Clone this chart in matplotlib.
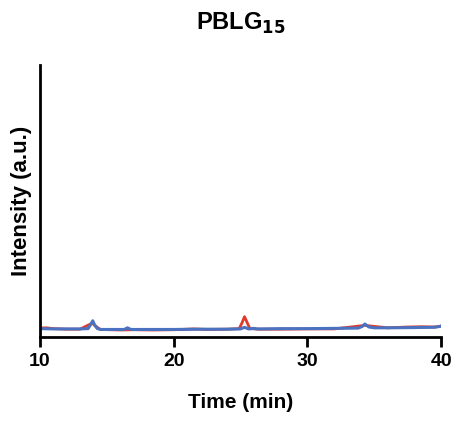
import matplotlib.pyplot as plt

plt.rcParams['font.family'] = ['Liberation Sans', 'DejaVu Sans']

# retention time (min) and intensity (a.u.)
time_blue = [10.0, 11.0, 12.0, 13.0, 13.6, 13.8, 13.95, 14.1, 14.3, 14.6, 15.5, 16.3, 16.55, 16.8,
             18.0, 20.0, 22.0, 24.0, 25.0, 25.3, 25.6, 26.0, 26.2, 26.5, 28.0, 30.0, 32.0,
             33.8, 34.1, 34.3, 34.6, 35.0, 36.0, 38.0, 39.5, 39.9, 40.0]
int_blue = [3.0, 2.9, 2.9, 2.9, 3.0, 4.6, 5.9, 4.2, 3.0, 2.7, 2.7, 2.7, 3.3, 2.7,
            2.7, 2.7, 2.8, 2.8, 2.9, 3.5, 2.9, 3.1, 2.9, 2.9, 3.0, 3.0, 3.1,
            3.2, 3.8, 4.7, 3.6, 3.3, 3.3, 3.4, 3.5, 3.8, 4.0]

time_red = [10.0, 10.5, 11.0, 12.0, 13.0, 13.9, 14.5, 16.0, 17.0, 18.5, 20.0, 21.5, 22.5, 24.0,
            24.9, 25.1, 25.3, 25.5, 25.7, 26.5, 28.0, 30.0, 32.0, 34.3, 36.0, 37.5, 38.5, 39.5, 40.0]
int_red = [3.2, 3.3, 3.0, 2.8, 2.8, 5.0, 2.7, 2.5, 2.6, 2.5, 2.6, 2.9, 2.7, 2.8,
           3.0, 5.0, 7.4, 5.2, 3.0, 2.8, 2.8, 2.9, 2.9, 4.2, 3.3, 3.6, 3.7, 3.6, 3.9]

fig = plt.figure(figsize=(4.59, 4.21), dpi=100)
ax = fig.add_axes([0.087, 0.2, 0.874, 0.646])

ax.plot(time_red, int_red, color='#E0392B', lw=2.0)
ax.plot(time_blue, int_blue, color='#4A72C0', lw=2.2)

ax.set_xlim(10, 40)
ax.set_ylim(0, 100)
ax.set_xticks([10, 20, 30, 40])
ax.set_yticks([])

for s in ['top', 'right']:
    ax.spines[s].set_visible(False)
for s in ['left', 'bottom']:
    ax.spines[s].set_linewidth(2)

ax.tick_params(axis='x', direction='out', length=7, width=2, labelsize=14, pad=5)
for lab in ax.get_xticklabels():
    lab.set_fontweight('bold')

ax.set_xlabel('Time (min)', fontsize=15, fontweight='bold', labelpad=16)
ax.set_ylabel('Intensity (a.u.)', fontsize=16, fontweight='bold', labelpad=6)
ax.set_title('PBLG$_{\\mathbf{15}}$', fontsize=17, fontweight='bold', pad=25)

plt.savefig('out.png', dpi=100)
plt.close()
